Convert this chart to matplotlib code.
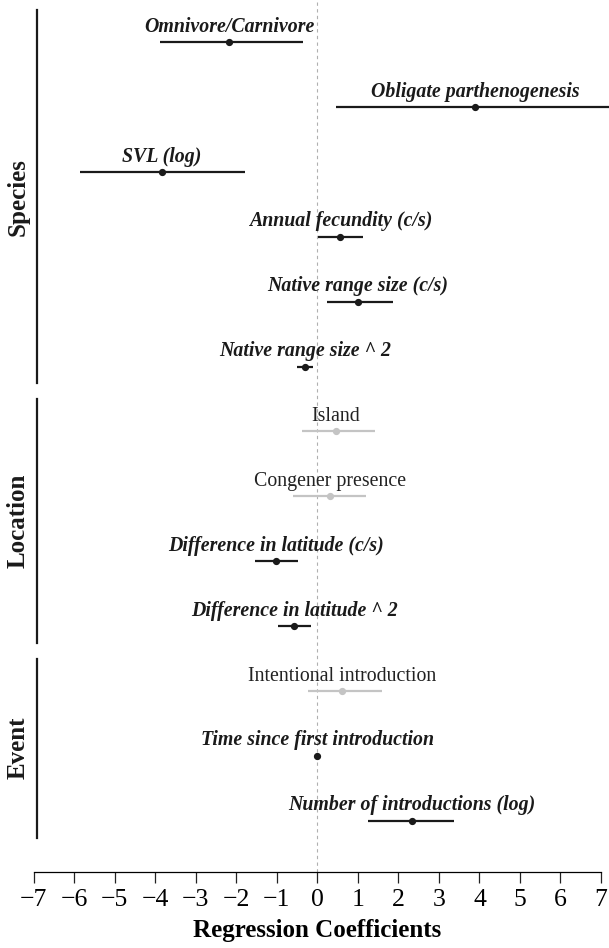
import matplotlib.pyplot as plt

plt.rcParams['font.family'] = ['Liberation Serif', 'DejaVu Serif']
plt.rcParams['axes.unicode_minus'] = True

# coefficient estimates with 95% intervals (top to bottom)
labels = ["Omnivore/Carnivore", "Obligate parthenogenesis", "SVL (log)",
          "Annual fecundity (c/s)", "Native range size (c/s)", "Native range size ^ 2",
          "Island", "Congener presence", "Difference in latitude (c/s)",
          "Difference in latitude ^ 2",
          "Intentional introduction", "Time since first introduction",
          "Number of introductions (log)"]
estimate = [-2.18, 3.89, -3.84, 0.57, 1.00, -0.30,
            0.46, 0.32, -1.01, -0.57,
            0.61, 0.00, 2.34]
lower = [-3.89, 0.46, -5.87, 0.02, 0.24, -0.51,
         -0.38, -0.59, -1.53, -0.97,
         -0.24, -0.03, 1.25]
upper = [-0.36, 7.60, -1.78, 1.13, 1.86, -0.10,
         1.41, 1.19, -0.49, -0.17,
         1.60, 0.03, 3.37]
significant = [True, True, True, True, True, True,
               False, False, True, True,
               False, True, True]

groups = ["Species", "Location", "Event"]
group_rows = [(0, 5), (6, 9), (10, 12)]

fig = plt.figure(figsize=(6.09, 9.48), dpi=100)
ax = fig.add_axes([33.8 / 609, 76 / 948, (601 - 33.8) / 609, 872 / 948])

dark = '#1a1a1a'
grey = '#c4c4c4'

ax.axvline(0, color='#b0b0b0', lw=0.8, ls=(0, (3, 3)), zorder=0)

for i, lab in enumerate(labels):
    c = dark if significant[i] else grey
    ax.plot([lower[i], upper[i]], [i, i], color=c, lw=1.6, clip_on=False,
            solid_capstyle='butt')
    ax.plot(estimate[i], i, 'o', color=c, ms=4.2, clip_on=False)
    if significant[i]:
        ax.annotate(lab, (estimate[i], i), xytext=(0, 7.5), textcoords='offset points',
                    ha='center', va='baseline', fontsize=14.3,
                    fontweight='bold', fontstyle='italic', color=dark)
    else:
        ax.annotate(lab, (estimate[i], i), xytext=(0, 7.5), textcoords='offset points',
                    ha='center', va='baseline', fontsize=14.3, color='#222222')

# group brackets and names on the left
for name, (a, b) in zip(groups, group_rows):
    ax.plot([-6.93, -6.93], [a - 0.5, b + 0.26], color=dark, lw=1.6, clip_on=False)
    ax.text(-7.38, (a - 0.5 + b + 0.26) / 2, name, rotation=90, ha='center', va='center',
            fontsize=18, fontweight='bold', color=dark)

ax.set_xlim(-7, 7)
ax.set_ylim(12.79, -0.65)
ax.set_xticks(range(-7, 8))
ax.tick_params(axis='x', length=8, width=0.9, labelsize=18.5, pad=4, color='#222222')
ax.set_yticks([])
for s in ['top', 'right', 'left']:
    ax.spines[s].set_visible(False)
ax.spines['bottom'].set_linewidth(0.9)
ax.spines['bottom'].set_bounds(-7, 7)
ax.set_xlabel("Regression Coefficients", fontsize=18, fontweight='bold', labelpad=6)

fig.savefig("out.png", dpi=100)
